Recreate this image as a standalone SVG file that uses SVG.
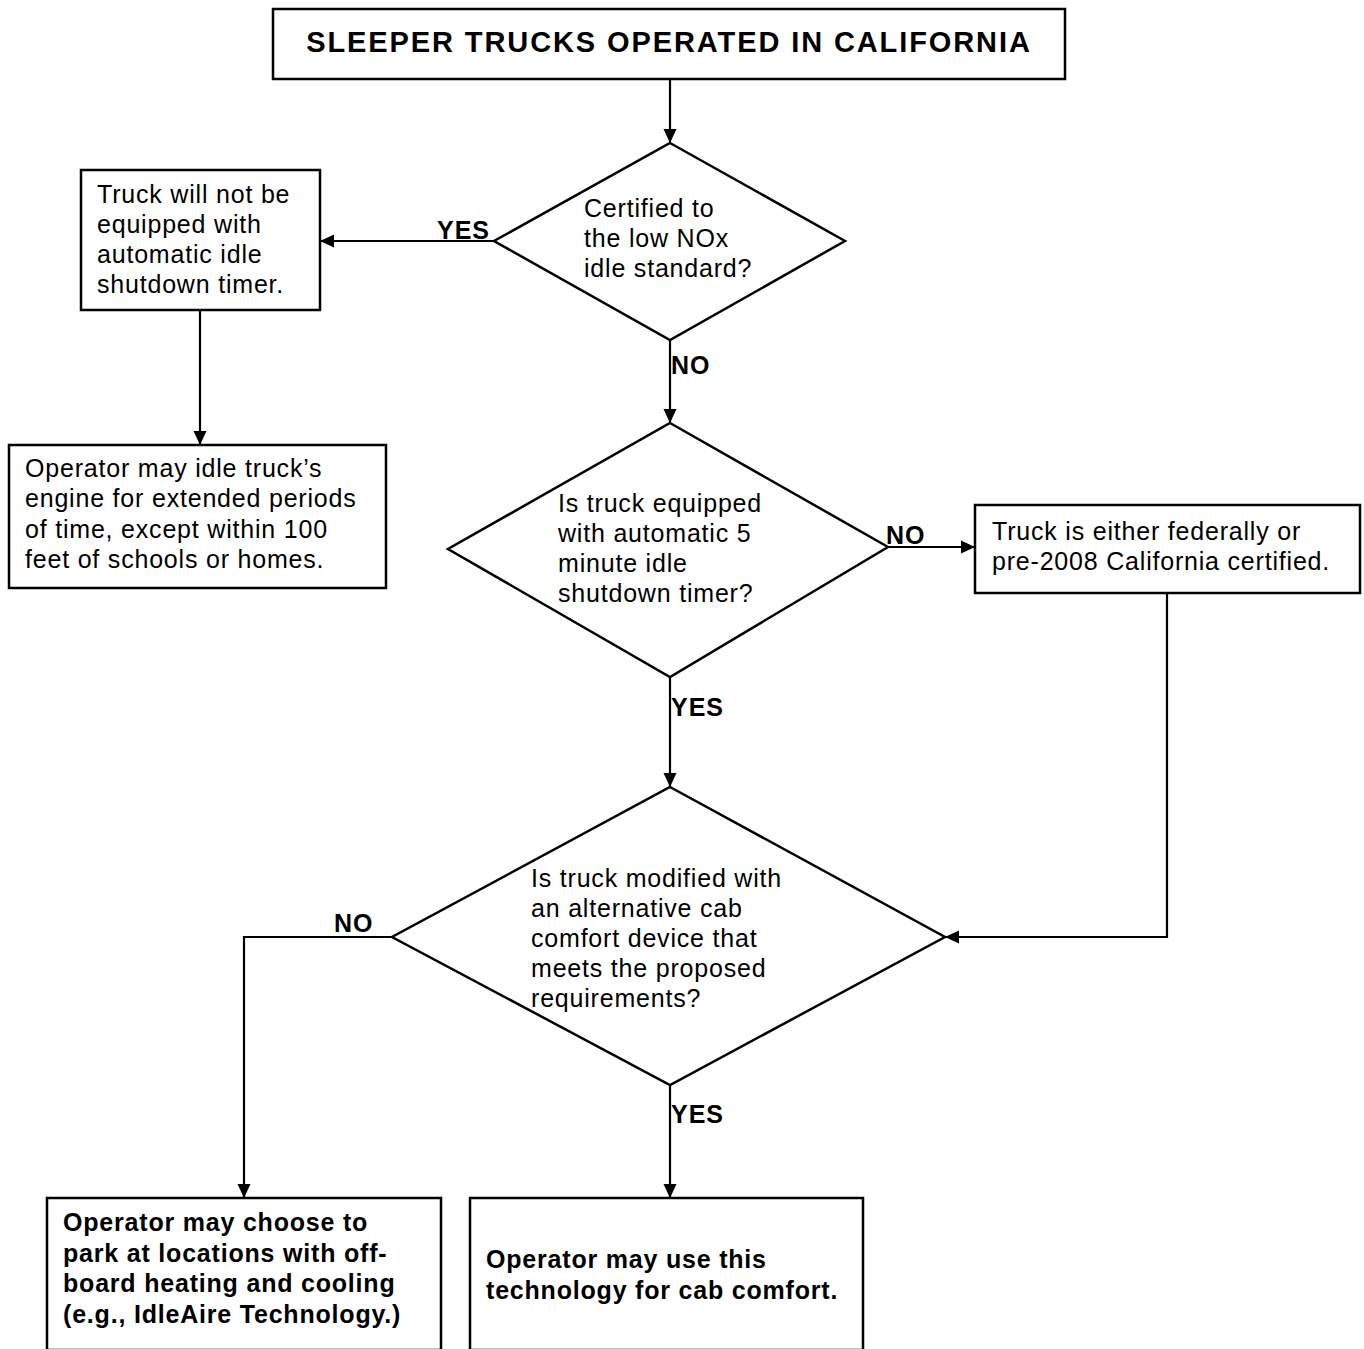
<svg xmlns="http://www.w3.org/2000/svg" width="1364" height="1349" viewBox="0 0 1364 1349">
<style>
.box{fill:#fff;stroke:#000;stroke-width:2.5}
.t{font-family:"Liberation Sans",Arial,sans-serif;font-size:25px;letter-spacing:0.8px;fill:#000}
.b{font-family:"Liberation Sans",Arial,sans-serif;font-size:25px;letter-spacing:0.8px;font-weight:bold;fill:#000}
.lbl{font-family:"Liberation Sans",Arial,sans-serif;font-size:25px;letter-spacing:1px;font-weight:bold;fill:#000}
.c{fill:none;stroke:#000;stroke-width:2.2}
</style>
<defs>
<marker id="ah" markerWidth="14" markerHeight="14" refX="13" refY="7" orient="auto" markerUnits="userSpaceOnUse">
<path d="M0,0.5 L14,7 L0,13.5 Z" fill="#000"/>
</marker>
</defs>
<rect width="1364" height="1349" fill="#fff"/>
<g id="connectors">
<path class="c" d="M670,79 V142" marker-end="url(#ah)"/>
<path class="c" d="M494,241 H321" marker-end="url(#ah)"/>
<path class="c" d="M200,310 V444" marker-end="url(#ah)"/>
<path class="c" d="M670,340 V422" marker-end="url(#ah)"/>
<path class="c" d="M888,547 H974" marker-end="url(#ah)"/>
<path class="c" d="M670,677 V786" marker-end="url(#ah)"/>
<path class="c" d="M1167,593 V937 H946" marker-end="url(#ah)"/>
<path class="c" d="M392,937 H244 V1197" marker-end="url(#ah)"/>
<path class="c" d="M670,1085 V1197" marker-end="url(#ah)"/>
<text class="lbl" x="437" y="239">YES</text>
<text class="lbl" x="671" y="374">NO</text>
<text class="lbl" x="886" y="544">NO</text>
<text class="lbl" x="671" y="716">YES</text>
<text class="lbl" x="334" y="932">NO</text>
<text class="lbl" x="671" y="1123">YES</text>
</g>
<g id="title">
<rect class="box" x="273" y="9" width="792" height="70"/>
<text class="b" x="669" y="52" text-anchor="middle" style="font-size:29px;letter-spacing:1.9px">SLEEPER TRUCKS OPERATED IN CALIFORNIA</text>
</g>
<g id="d1">
<polygon class="box" points="670,143 845,241 670,340 494,241"/>
<text class="t" x="584" y="217">Certified to</text>
<text class="t" x="584" y="247">the low NOx</text>
<text class="t" x="584" y="277">idle standard?</text>
</g>
<g id="box1">
<rect class="box" x="81" y="170" width="239" height="140"/>
<text class="t" x="97" y="203">Truck will not be</text>
<text class="t" x="97" y="233">equipped with</text>
<text class="t" x="97" y="263">automatic idle</text>
<text class="t" x="97" y="293">shutdown timer.</text>
</g>
<g id="box2">
<rect class="box" x="9" y="445" width="377" height="143"/>
<text class="t" x="25" y="477">Operator may idle truck’s</text>
<text class="t" x="25" y="507">engine for extended periods</text>
<text class="t" x="25" y="538">of time, except within 100</text>
<text class="t" x="25" y="568">feet of schools or homes.</text>
</g>
<g id="d2">
<polygon class="box" points="670,423 888,547 670,677 448,549"/>
<text class="t" x="558" y="512">Is truck equipped</text>
<text class="t" x="558" y="542">with automatic 5</text>
<text class="t" x="558" y="572">minute idle</text>
<text class="t" x="558" y="602">shutdown timer?</text>
</g>
<g id="box3">
<rect class="box" x="975" y="505" width="385" height="88"/>
<text class="t" x="992" y="540">Truck is either federally or</text>
<text class="t" x="992" y="570">pre-2008 California certified.</text>
</g>
<g id="d3">
<polygon class="box" points="670,787 945,937 670,1085 392,937"/>
<text class="t" x="531" y="887">Is truck modified with</text>
<text class="t" x="531" y="917">an alternative cab</text>
<text class="t" x="531" y="947">comfort device that</text>
<text class="t" x="531" y="977">meets the proposed</text>
<text class="t" x="531" y="1007">requirements?</text>
</g>
<g id="box4">
<rect class="box" x="47" y="1198" width="394" height="152"/>
<text class="b" x="63" y="1231">Operator may choose to</text>
<text class="b" x="63" y="1262">park at locations with off-</text>
<text class="b" x="63" y="1292">board heating and cooling</text>
<text class="b" x="63" y="1323">(e.g., IdleAire Technology.)</text>
</g>
<g id="box5">
<rect class="box" x="470" y="1198" width="393" height="152"/>
<text class="b" x="486" y="1268">Operator may use this</text>
<text class="b" x="486" y="1299">technology for cab comfort.</text>
</g>
</svg>
